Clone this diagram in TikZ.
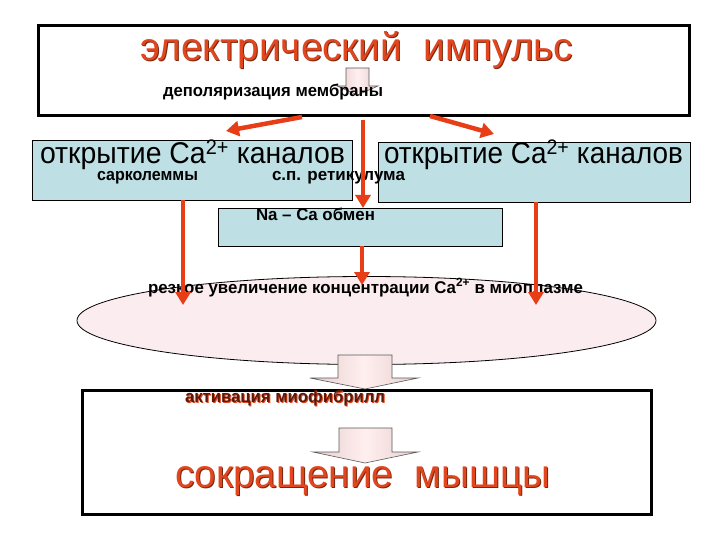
\documentclass[tikz,border=0pt]{standalone}
\usepackage{fontspec}
\usepackage{graphicx}
\setmainfont{Liberation Sans}
\usetikzlibrary{arrows.meta,shapes.geometric}
\definecolor{redarr}{RGB}{232,62,24}
\definecolor{titlered}{RGB}{226,70,30}
\definecolor{titleshadow}{RGB}{120,40,15}
\definecolor{boxblue}{RGB}{190,223,228}
\definecolor{ellpink}{RGB}{251,236,240}
\definecolor{brownt}{RGB}{90,25,10}
\newcommand\fitx[2]{\resizebox{#1}{\height}{#2}}
\begin{document}
\begin{tikzpicture}[x=1pt,y=-1pt,
  every node/.style={inner sep=0pt,outer sep=0pt},
  framebox/.style={draw=black,line width=3pt,fill=white},
  bluebox/.style={draw=black,line width=0.8pt,fill=boxblue},
  redarrow/.style={draw=redarr,line width=4.5pt,-{Triangle[width=15pt,length=13pt]}},
  blockarrow/.style={draw=black!65,line width=0.6pt,left color=pink!70!gray!60,right color=pink!70!gray!60,middle color=pink!25},
  bigtitle/.style={font=\fontsize{39}{40}\selectfont,anchor=base west},
  smallbold/.style={font=\fontsize{17}{18}\selectfont\bfseries,anchor=base west},
  midtitle/.style={font=\fontsize{30}{30}\selectfont,anchor=base west}]
\useasboundingbox[fill=white] (0,0) rectangle (720,540);

% boxes
\node[framebox,minimum width=651pt,minimum height=90pt] (top) at (363.5,71) {};
\node[bluebox,minimum width=320pt,minimum height=60pt] (lbox) at (192,170) {};
\node[bluebox,minimum width=312pt,minimum height=60pt] (rbox) at (534,172) {};
\node[bluebox,minimum width=284pt,minimum height=38pt] (nabox) at (360,227) {};
\node[ellipse,draw=black,line width=0.8pt,fill=ellpink,minimum width=579pt,minimum height=88pt] (ell) at (366.5,320.5) {};
\node[framebox,minimum width=569pt,minimum height=124pt] (bot) at (366.5,452) {};

% small block arrow in top box
\path[blockarrow] (346,68) -- (369,68) -- (369,86) -- (378,86) -- (357.5,95) -- (337,86) -- (346,86) -- cycle;

% big block arrows
\path[blockarrow] (338,355) -- (392,355) -- (392,378) -- (418,378) -- (365,389) -- (310,378) -- (338,378) -- cycle;
\path[blockarrow] (339,428) -- (392,428) -- (392,452) -- (418,452) -- (365,463) -- (313,452) -- (339,452) -- cycle;

% texts
\node[bigtitle,text=titleshadow] (t1s) at (141,62) {\fitx{433pt}{электрический\ \ импульс}};
\node[bigtitle,text=titlered] (t1) at (140,61) {\fitx{433pt}{электрический\ \ импульс}};
\node[smallbold] (dep) at (163,97) {\fitx{220pt}{деполяризация мембраны}};

\node[midtitle] (lt) at (40,164) {\fitx{305pt}{открытие Ca\textsuperscript{2+} каналов}};
\node[midtitle] (rt) at (384,164) {\fitx{299pt}{открытие Ca\textsuperscript{2+} каналов}};
\node[smallbold] (sark) at (97,181) {\fitx{101pt}{сарколеммы}};
\node[smallbold] (ret) at (272,181) {\fitx{133pt}{с.п. ретикулума}};
\node[smallbold] (na) at (256,221) {\fitx{119pt}{Na – Ca обмен}};
\node[smallbold] (rez) at (148,293) {\fitx{435pt}{резкое увеличение концентрации Ca\textsuperscript{2+} в миоплазме}};

\node[smallbold,text=titlered] (akts) at (186,403) {\fitx{200pt}{активация миофибрилл}};
\node[smallbold,text=brownt] (akt) at (185,402) {\fitx{200pt}{активация миофибрилл}};
\node[bigtitle,text=titleshadow] (t2s) at (176,488) {\fitx{375pt}{сокращение\ \ мышцы}};
\node[bigtitle,text=titlered] (t2) at (175,487) {\fitx{375pt}{сокращение\ \ мышцы}};

% red arrow coordinates
\coordinate (a1s) at (302,117);
\coordinate (a1e) at (226,131);
\coordinate (a2s) at (363,120);
\coordinate (a2e) at (363,208);
\coordinate (a3s) at (430,116);
\coordinate (a3e) at (494,134);
\coordinate (a4s) at (183,200);
\coordinate (a4e) at (183,305);
\coordinate (a5s) at (536,202);
\coordinate (a5e) at (536,305);
\coordinate (a6s) at (362,246);
\coordinate (a6e) at (362,285);

\draw[redarrow] (a1s) -- (a1e);
\draw[redarrow] (a2s) -- (a2e);
\draw[redarrow] (a3s) -- (a3e);
\draw[redarrow] (a4s) -- (a4e);
\draw[redarrow] (a5s) -- (a5e);
\draw[redarrow] (a6s) -- (a6e);
\end{tikzpicture}
\end{document}
